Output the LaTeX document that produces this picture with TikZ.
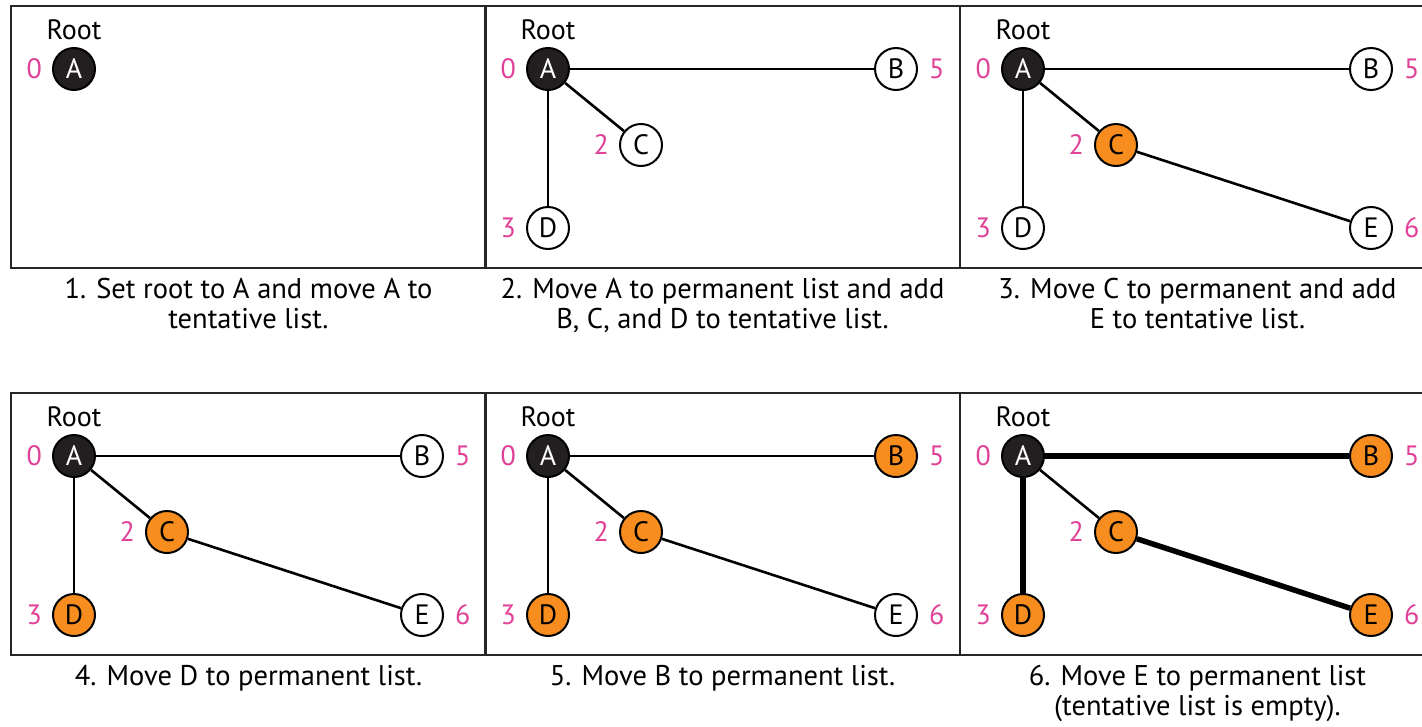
\documentclass[tikz,border=0pt]{standalone}
\usepackage{fontspec}
\setmainfont{PT Sans}
\usetikzlibrary{positioning}
\definecolor{distpink}{RGB}{224,64,150}
\definecolor{permorange}{RGB}{247,141,30}
\definecolor{rootgray}{RGB}{35,31,32}
\begin{document}
\begin{tikzpicture}[x=1pt, y=-1pt,
  vtx/.style={circle, draw=black, line width=2pt, minimum size=42pt, inner sep=0pt, font=\fontsize{28}{28}\selectfont},
  tent/.style={vtx, fill=white},
  perm/.style={vtx, fill=permorange},
  root/.style={vtx, fill=rootgray, text=white},
  dist/.style={text=distpink, inner sep=2pt, font=\fontsize{28}{28}\selectfont},
  rootlbl/.style={inner sep=2pt, font=\fontsize{28}{28}\selectfont},
  link/.style={line width=2.6pt},
  tree/.style={line width=5.5pt},
  frame/.style={draw=black!85, line width=2pt},
  caption/.style={align=center, anchor=north, inner sep=0pt, font=\fontsize{28.5}{30}\selectfont}]

\useasboundingbox (0,0) rectangle (1422,726);
\clip (0,0) rectangle (1422,726);

% panel 1
\begin{scope}[shift={(11,6)}]
\draw[frame] (0,0) rectangle (475,262);
\node[root] (a1) at (63,63) {A};
\node[rootlbl, above=5pt of a1] (r1) {Root};
\node[dist, left=8pt of a1] (a1d) {0};
\node[caption] (cap1) at (237.5,272) {1. Set root to A and move A to\\tentative list.};
\end{scope}

% panel 2
\begin{scope}[shift={(485,6)}]
\draw[frame] (0,0) rectangle (475,262);
\node[root] (a2) at (63,63) {A};
\node[tent] (b2) at (411,63) {B};
\node[tent] (c2) at (156,139) {C};
\node[tent] (d2) at (63,222) {D};
\node[rootlbl, above=5pt of a2] (r2) {Root};
\node[dist, left=8pt of a2] (a2d) {0};
\node[dist, right=9pt of b2] (b2d) {5};
\node[dist, left=8pt of c2] (c2d) {2};
\node[dist, left=8pt of d2] (d2d) {3};
\draw[link] (a2) -- (b2);
\draw[link] (a2) -- (c2);
\draw[link] (a2) -- (d2);
\node[caption] (cap2) at (237.5,272) {2. Move A to permanent list and add\\B, C, and D to tentative list.};
\end{scope}

% panel 3
\begin{scope}[shift={(960,6)}]
\draw[frame] (0,0) rectangle (475,262);
\node[root] (a3) at (63,63) {A};
\node[tent] (b3) at (411,63) {B};
\node[perm] (c3) at (156,139) {C};
\node[tent] (d3) at (63,222) {D};
\node[tent] (e3) at (411,222) {E};
\node[rootlbl, above=5pt of a3] (r3) {Root};
\node[dist, left=8pt of a3] (a3d) {0};
\node[dist, right=9pt of b3] (b3d) {5};
\node[dist, left=8pt of c3] (c3d) {2};
\node[dist, left=8pt of d3] (d3d) {3};
\node[dist, right=9pt of e3] (e3d) {6};
\draw[link] (a3) -- (b3);
\draw[link] (a3) -- (c3);
\draw[link] (a3) -- (d3);
\draw[link] (c3) -- (e3);
\node[caption] (cap3) at (237.5,272) {3. Move C to permanent and add\\E to tentative list.};
\end{scope}

% panel 4
\begin{scope}[shift={(11,393)}]
\draw[frame] (0,0) rectangle (475,262);
\node[root] (a4) at (63,63) {A};
\node[tent] (b4) at (411,63) {B};
\node[perm] (c4) at (156,139) {C};
\node[perm] (d4) at (63,222) {D};
\node[tent] (e4) at (411,222) {E};
\node[rootlbl, above=5pt of a4] (r4) {Root};
\node[dist, left=8pt of a4] (a4d) {0};
\node[dist, right=9pt of b4] (b4d) {5};
\node[dist, left=8pt of c4] (c4d) {2};
\node[dist, left=8pt of d4] (d4d) {3};
\node[dist, right=9pt of e4] (e4d) {6};
\draw[link] (a4) -- (b4);
\draw[link] (a4) -- (c4);
\draw[link] (a4) -- (d4);
\draw[link] (c4) -- (e4);
\node[caption] (cap4) at (237.5,272) {4. Move D to permanent list.};
\end{scope}

% panel 5
\begin{scope}[shift={(485,393)}]
\draw[frame] (0,0) rectangle (475,262);
\node[root] (a5) at (63,63) {A};
\node[perm] (b5) at (411,63) {B};
\node[perm] (c5) at (156,139) {C};
\node[perm] (d5) at (63,222) {D};
\node[tent] (e5) at (411,222) {E};
\node[rootlbl, above=5pt of a5] (r5) {Root};
\node[dist, left=8pt of a5] (a5d) {0};
\node[dist, right=9pt of b5] (b5d) {5};
\node[dist, left=8pt of c5] (c5d) {2};
\node[dist, left=8pt of d5] (d5d) {3};
\node[dist, right=9pt of e5] (e5d) {6};
\draw[link] (a5) -- (b5);
\draw[link] (a5) -- (c5);
\draw[link] (a5) -- (d5);
\draw[link] (c5) -- (e5);
\node[caption] (cap5) at (237.5,272) {5. Move B to permanent list.};
\end{scope}

% panel 6
\begin{scope}[shift={(960,393)}]
\draw[frame] (0,0) rectangle (475,262);
\node[root] (a6) at (63,63) {A};
\node[perm] (b6) at (411,63) {B};
\node[perm] (c6) at (156,139) {C};
\node[perm] (d6) at (63,222) {D};
\node[perm] (e6) at (411,222) {E};
\node[rootlbl, above=5pt of a6] (r6) {Root};
\node[dist, left=8pt of a6] (a6d) {0};
\node[dist, right=9pt of b6] (b6d) {5};
\node[dist, left=8pt of c6] (c6d) {2};
\node[dist, left=8pt of d6] (d6d) {3};
\node[dist, right=9pt of e6] (e6d) {6};
\draw[tree] (a6) -- (b6);
\draw[link] (a6) -- (c6);
\draw[tree] (a6) -- (d6);
\draw[tree] (c6) -- (e6);
\node[caption] (cap6) at (237.5,272) {6. Move E to permanent list\\(tentative list is empty).};
\end{scope}

\end{tikzpicture}
\end{document}
